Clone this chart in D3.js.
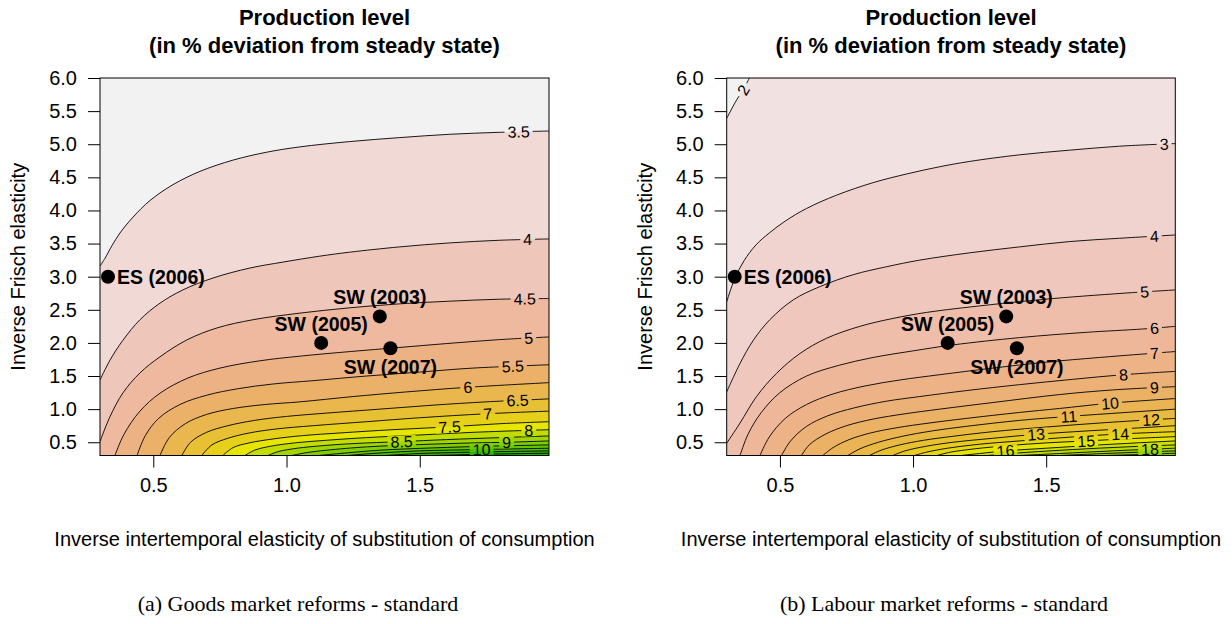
<!DOCTYPE html>
<html><head><meta charset="utf-8">
<script src="https://cdn.jsdelivr.net/npm/d3@7"></script>
<style>
body{margin:0;background:#fff}
svg{display:block}
text{font-family:"Liberation Sans",Arial,Helvetica,sans-serif;fill:#000}
</style>
</head><body>
<svg id="chart" width="1232" height="624"></svg>
<script>
// ---------- data ----------
const xTicks=[0.5,1.0,1.5];
const yTicks=[0.5,1.0,1.5,2.0,2.5,3.0,3.5,4.0,4.5,5.0,5.5,6.0];
const xDomain=[0.3,1.985];
const yDomain=[0.3,6.0];

const estNames=["ES (2006)","SW (2003)","SW (2005)","SW (2007)"];
const estX=[0.33,1.35,1.13,1.39];
const estY=[3.0,2.4,2.0,1.92];
const estPos=["right","top","top","bottom"];

// Panel (a): goods market reforms
const levelsA=[3.5,4,4.5,5,5.5,6,6.5,7,7.5,8,8.5,9,9.5,10,10.5,11];
const linesA=[
 [[0.3,3.16],[0.319,3.28],[0.345,3.47],[0.375,3.66],[0.424,3.90],[0.4875,4.15],[0.574,4.39],[0.675,4.59],[0.799,4.76],[0.926,4.88],[1.05,4.96],[1.237,5.04],[1.425,5.10],[1.612,5.15],[1.8,5.18],[1.985,5.20]],
 [[0.3,1.44],[0.3375,1.74],[0.386,2.04],[0.45,2.35],[0.525,2.60],[0.611,2.80],[0.724,2.98],[0.862,3.13],[0.986,3.22],[1.125,3.31],[1.237,3.37],[1.425,3.45],[1.612,3.51],[1.80,3.55],[1.985,3.57]],
 [[0.3,0.51],[0.3375,0.887],[0.386,1.245],[0.45,1.547],[0.525,1.79],[0.626,2.045],[0.739,2.226],[0.874,2.35],[1.05,2.45],[1.237,2.53],[1.425,2.59],[1.612,2.63],[1.80,2.66],[1.985,2.67]],
 [[0.356,0.3],[0.39,0.62],[0.45,0.97],[0.525,1.24],[0.63,1.47],[0.75,1.62],[0.9,1.73],[1.05,1.80],[1.24,1.87],[1.42,1.93],[1.6,1.99],[1.8,2.05],[1.985,2.09]],
 [[0.439,0.3],[0.47,0.6],[0.52,0.86],[0.6,1.07],[0.7,1.21],[0.82,1.31],[0.95,1.38],[1.1,1.43],[1.3,1.50],[1.5,1.56],[1.7,1.62],[1.985,1.67]],
 [[0.525,0.3],[0.56,0.57],[0.62,0.78],[0.7,0.92],[0.8,1.01],[0.92,1.07],[1.05,1.11],[1.25,1.19],[1.45,1.26],[1.68,1.33],[1.985,1.40]],
 [[0.607,0.3],[0.64,0.5],[0.7,0.65],[0.78,0.75],[0.88,0.83],[1.0,0.89],[1.15,0.94],[1.35,1.0],[1.55,1.06],[1.75,1.11],[1.985,1.155]],
 [[0.682,0.3],[0.72,0.46],[0.78,0.56],[0.86,0.64],[0.96,0.70],[1.1,0.75],[1.3,0.81],[1.5,0.87],[1.75,0.93],[1.985,0.97]],
 [[0.761,0.3],[0.8,0.42],[0.86,0.49],[0.95,0.55],[1.06,0.60],[1.2,0.64],[1.4,0.69],[1.6,0.73],[1.8,0.78],[1.985,0.81]],
 [[0.844,0.3],[0.88,0.38],[0.94,0.44],[1.03,0.49],[1.15,0.53],[1.3,0.57],[1.5,0.61],[1.7,0.65],[1.985,0.69]],
 [[0.93,0.3],[0.97,0.36],[1.04,0.41],[1.14,0.45],[1.25,0.48],[1.43,0.51],[1.6,0.54],[1.8,0.57],[1.985,0.595]],
 [[1.02,0.3],[1.07,0.34],[1.15,0.38],[1.3,0.43],[1.5,0.465],[1.7,0.49],[1.83,0.50],[1.985,0.52]],
 [[1.12,0.3],[1.2,0.33],[1.35,0.38],[1.55,0.415],[1.75,0.44],[1.985,0.46]],
 [[1.23,0.3],[1.32,0.33],[1.5,0.37],[1.73,0.39],[1.985,0.41]],
 [[1.37,0.3],[1.5,0.33],[1.75,0.355],[1.985,0.37]],
 [[1.55,0.3],[1.75,0.32],[1.985,0.335]]
];
const labelXA=[1.871,1.905,1.894,1.909,1.849,1.68,1.867,1.755,1.612,1.909,1.432,1.826,null,1.732,null,null];

// Panel (b): labour market reforms
const levelsB=[2,3,4,5,6,7,8,9,10,11,12,13,14,15,16,17,18,19,20];
const linesB=[
 [[0.3,5.39],[0.3375,5.67],[0.362,5.82],[0.385,6.0]],
 [[0.3,2.62],[0.33,2.97],[0.365,3.24],[0.41,3.48],[0.46,3.66],[0.52,3.84],[0.6,4.03],[0.712,4.23],[0.85,4.42],[0.975,4.55],[1.1,4.66],[1.212,4.74],[1.4,4.84],[1.587,4.91],[1.775,4.97],[1.985,5.01]],
 [[0.3,1.26],[0.35,1.69],[0.4,2.04],[0.462,2.35],[0.55,2.65],[0.65,2.85],[0.775,3.03],[0.9,3.15],[1.025,3.25],[1.212,3.36],[1.4,3.45],[1.587,3.53],[1.775,3.58],[1.985,3.63]],
 [[0.3,0.485],[0.35,0.79],[0.412,1.19],[0.487,1.54],[0.575,1.84],[0.675,2.07],[0.8,2.25],[0.925,2.37],[1.05,2.46],[1.275,2.57],[1.525,2.67],[1.825,2.76],[1.985,2.80]],
 [[0.35,0.3],[0.38,0.62],[0.43,0.95],[0.5,1.25],[0.6,1.5],[0.72,1.66],[0.85,1.78],[1.0,1.88],[1.15,1.97],[1.4,2.08],[1.65,2.16],[1.862,2.21],[1.985,2.25]],
 [[0.425,0.3],[0.46,0.58],[0.52,0.86],[0.6,1.07],[0.7,1.23],[0.82,1.35],[0.95,1.44],[1.1,1.52],[1.3,1.62],[1.5,1.71],[1.7,1.78],[1.985,1.87]],
 [[0.506,0.3],[0.54,0.52],[0.6,0.74],[0.68,0.9],[0.78,1.02],[0.9,1.12],[1.025,1.19],[1.2,1.28],[1.4,1.37],[1.6,1.45],[1.79,1.52],[1.985,1.57]],
 [[0.581,0.3],[0.61,0.46],[0.67,0.62],[0.75,0.75],[0.85,0.85],[0.97,0.93],[1.1,1.0],[1.3,1.1],[1.55,1.22],[1.75,1.29],[1.985,1.34]],
 [[0.661,0.3],[0.7,0.42],[0.76,0.54],[0.84,0.64],[0.94,0.72],[1.06,0.79],[1.2,0.86],[1.4,0.95],[1.55,1.01],[1.74,1.09],[1.985,1.16]],
 [[0.755,0.3],[0.8,0.4],[0.87,0.5],[0.96,0.59],[1.07,0.67],[1.2,0.74],[1.4,0.83],[1.585,0.89],[1.8,0.95],[1.985,1.0]],
 [[0.836,0.3],[0.88,0.38],[0.95,0.46],[1.04,0.53],[1.15,0.59],[1.3,0.66],[1.5,0.73],[1.7,0.79],[1.894,0.84],[1.985,0.86]],
 [[0.924,0.3],[0.97,0.37],[1.05,0.44],[1.15,0.5],[1.3,0.56],[1.462,0.62],[1.65,0.67],[1.82,0.71],[1.985,0.75]],
 [[1.005,0.3],[1.05,0.35],[1.13,0.41],[1.25,0.47],[1.4,0.52],[1.6,0.58],[1.778,0.625],[1.985,0.66]],
 [[1.09,0.3],[1.14,0.35],[1.23,0.40],[1.36,0.45],[1.5,0.49],[1.65,0.52],[1.82,0.555],[1.985,0.585]],
 [[1.18,0.3],[1.25,0.33],[1.347,0.37],[1.5,0.41],[1.7,0.46],[1.985,0.52]],
 [[1.28,0.3],[1.4,0.34],[1.6,0.39],[1.8,0.43],[1.985,0.46]],
 [[1.4,0.3],[1.55,0.33],[1.75,0.37],[1.89,0.395],[1.985,0.41]],
 [[1.55,0.3],[1.75,0.335],[1.985,0.37]],
 [[1.72,0.3],[1.85,0.315],[1.985,0.335]]
];
const labelXB=[0.362,1.943,1.906,1.87,1.907,1.907,1.79,1.907,1.74,1.585,1.894,1.462,1.778,1.65,1.347,null,1.89,null,null];

const titleLines=["Production level","(in % deviation from steady state)"];
const xTitle="Inverse intertemporal elasticity of substitution of consumption";
const yTitle="Inverse Frisch elasticity";
const captions=["(a) Goods market reforms - standard","(b) Labour market reforms - standard"];

// ---------- helpers ----------
function hsv(h,s,v){
  const i=Math.floor(h*6), f=h*6-i, p=v*(1-s), q=v*(1-f*s), t=v*(1-(1-f)*s);
  let r,g,b;
  switch(((i%6)+6)%6){case 0:r=v;g=t;b=p;break;case 1:r=q;g=v;b=p;break;case 2:r=p;g=v;b=t;break;
    case 3:r=p;g=q;b=v;break;case 4:r=t;g=p;b=v;break;default:r=v;g=p;b=q;}
  return d3.rgb(r*255,g*255,b*255).formatHex();
}
// R's rev(terrain.colors(n))
function terrainRev(n){
  const k=Math.floor(n/2), cols=[];
  for(let i=0;i<k;i++){const t=k>1?i/(k-1):0; cols.push(hsv(4/12-2/12*t,1,0.65+0.25*t));}
  const m=n-k+1;
  for(let i=1;i<m;i++){const t=i/(m-1); cols.push(hsv(2/12*(1-t),1-t,0.9+0.05*t));}
  return cols.reverse();
}

const W=1232,H=624,yTop=78,yBot=455.5;
const svg=d3.select("#chart");
const defs=svg.append("defs");
const panels=[
  {x0:100,x1:549,levels:levelsA,lines:linesA,labels:labelXA,n:18,caption:captions[0],capX:298},
  {x0:726.7,x1:1175.3,levels:levelsB,lines:linesB,labels:labelXB,n:28,caption:captions[1],capX:944}
];

panels.forEach((p,pi)=>{
  const x=d3.scaleLinear().domain(xDomain).range([p.x0,p.x1]);
  const y=d3.scaleLinear().domain(yDomain).range([yBot,yTop]);
  const pal=terrainRev(p.n);
  const cx=(p.x0+p.x1)/2;
  const g=svg.append("g");

  defs.append("clipPath").attr("id","clip"+pi).append("rect")
    .attr("x",p.x0).attr("y",yTop).attr("width",p.x1-p.x0).attr("height",yBot-yTop);
  const mask=defs.append("mask").attr("id","mask"+pi).attr("maskUnits","userSpaceOnUse")
    .attr("x",0).attr("y",0).attr("width",W).attr("height",H);
  mask.append("rect").attr("x",0).attr("y",0).attr("width",W).attr("height",H).attr("fill","white");

  const plot=g.append("g").attr("clip-path",`url(#clip${pi})`);
  plot.append("rect").attr("x",p.x0).attr("y",yTop).attr("width",p.x1-p.x0).attr("height",yBot-yTop).attr("fill",pal[0]);

  const line=d3.line().x(d=>x(d[0])).y(d=>y(d[1])).curve(d3.curveCatmullRom.alpha(0.5));

  // filled bands
  p.lines.forEach((pts,i)=>{
    const last=pts[pts.length-1];
    const corners=[];
    if(last[1]>=yDomain[1]-1e-9) corners.push([xDomain[1],yDomain[1]]);
    corners.push([xDomain[1],yDomain[0]],[xDomain[0],yDomain[0]]);
    const d=line(pts)+corners.map(c=>`L${x(c[0])},${y(c[1])}`).join("")+"Z";
    plot.append("path").attr("d",d).attr("fill",pal[i+1]);
  });

  // contour lines
  const lg=plot.append("g").attr("mask",`url(#mask${pi})`);
  const paths=p.lines.map(pts=>lg.append("path").attr("d",line(pts))
    .attr("fill","none").attr("stroke","#000").attr("stroke-width",0.9));

  // contour labels
  p.lines.forEach((pts,i)=>{
    const lx=p.labels[i]; if(lx==null) return;
    const node=paths[i].node(), L=node.getTotalLength(), tx=x(lx);
    let lo=0,hi=L;
    for(let k=0;k<40;k++){const m=(lo+hi)/2; if(node.getPointAtLength(m).x<tx) lo=m; else hi=m;}
    const pt=node.getPointAtLength(lo);
    const a=node.getPointAtLength(Math.max(0,lo-5)), b=node.getPointAtLength(Math.min(L,lo+5));
    let ang=Math.atan2(b.y-a.y,b.x-a.x)*180/Math.PI;
    if(ang>90) ang-=180; if(ang<-90) ang+=180;
    const tr=`translate(${pt.x},${pt.y}) rotate(${ang})`;
    const t=plot.append("text").attr("transform",tr).attr("text-anchor","middle")
      .attr("dy","0.36em").attr("font-size",16).text(String(p.levels[i]));
    const w=t.node().getComputedTextLength();
    mask.append("rect").attr("x",-w/2-3).attr("y",-6).attr("width",w+6).attr("height",12)
      .attr("transform",tr).attr("fill","black");
  });

  // frame
  g.append("rect").attr("x",p.x0).attr("y",yTop).attr("width",p.x1-p.x0).attr("height",yBot-yTop)
    .attr("fill","none").attr("stroke","#000").attr("stroke-width",1);

  // axes
  const xa=g.append("g").attr("transform",`translate(0,${yBot})`)
    .call(d3.axisBottom(x).tickValues(xTicks).tickFormat(d3.format(".1f")).tickSize(12).tickPadding(10));
  const ya=g.append("g").attr("transform",`translate(${p.x0},0)`)
    .call(d3.axisLeft(y).tickValues(yTicks).tickFormat(d3.format(".1f")).tickSize(12).tickPadding(11));
  [xa,ya].forEach(a=>{
    a.select(".domain").remove();
    a.selectAll("line").attr("stroke","#000");
    a.selectAll("text").attr("font-size",20).attr("font-family",'"Liberation Sans",Arial,sans-serif');
  });

  // titles
  g.append("text").attr("x",cx).attr("y",25).attr("text-anchor","middle").attr("font-weight","bold")
    .attr("font-size",22).text(titleLines[0]);
  g.append("text").attr("x",cx).attr("y",53).attr("text-anchor","middle").attr("font-weight","bold")
    .attr("font-size",22).text(titleLines[1]);
  g.append("text").attr("x",cx).attr("y",546).attr("text-anchor","middle").attr("font-size",20).text(xTitle);
  g.append("text").attr("transform",`translate(${p.x0-82},${(yTop+yBot)/2}) rotate(-90)`)
    .attr("text-anchor","middle").attr("dy","0.36em").attr("font-size",20).text(yTitle);
  g.append("text").attr("x",p.capX).attr("y",611).attr("text-anchor","middle")
    .style("font-family",'"Palatino Linotype","Book Antiqua",Palatino,"Liberation Serif","DejaVu Serif",serif')
    .attr("font-size",22).text(p.caption);

  // estimates
  estNames.forEach((nm,i)=>{
    const px=x(estX[i]), py=y(estY[i]);
    g.append("circle").attr("cx",px).attr("cy",py).attr("r",7).attr("fill","#000");
    const t=g.append("text").attr("font-weight","bold").attr("font-size",19.5).text(nm);
    if(estPos[i]==="right") t.attr("x",px+9).attr("y",py).attr("dy","0.36em").attr("text-anchor","start");
    else if(estPos[i]==="top") t.attr("x",px).attr("y",py-19).attr("dy","0.36em").attr("text-anchor","middle");
    else t.attr("x",px).attr("y",py+19).attr("dy","0.36em").attr("text-anchor","middle");
  });
});
</script>
</body></html>
